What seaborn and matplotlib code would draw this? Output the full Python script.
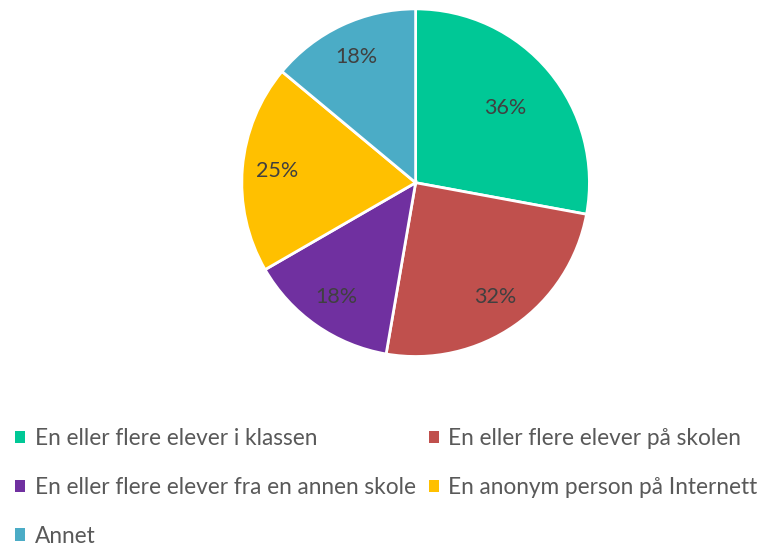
import matplotlib
matplotlib.use("Agg")
import matplotlib.pyplot as plt
import seaborn as sns
import numpy as np
from matplotlib.patches import Patch

sns.set_theme(style="white")
plt.rcParams['font.family'] = ['Lato', 'DejaVu Sans']

categories = ["En eller flere elever i klassen",
              "En eller flere elever på skolen",
              "En eller flere elever fra en annen skole",
              "En anonym person på Internett",
              "Annet"]
values = [36, 32, 18, 25, 18]
colors = ["#00C896", "#C0504D", "#7030A0", "#FFC000", "#4BACC6"]

fig = plt.figure(figsize=(7.64, 5.47), dpi=100)
w, h = 0.455, 0.636
ax = fig.add_axes([0.544 - w / 2, 0.666 - h / 2, w, h])

wedges, texts, autotexts = ax.pie(
    values, colors=colors, startangle=90, counterclock=False,
    autopct=lambda p: f"{round(p * sum(values) / 100)}%",
    pctdistance=0.8, radius=1.0,
    wedgeprops=dict(edgecolor="white", linewidth=2),
    textprops=dict(color="#404040", fontsize=15.5))
# move first label inward (best-fit style)
x, y = autotexts[0].get_position()
autotexts[0].set_position((x * 0.67 / 0.8, y * 0.67 / 0.8))
ax.set_xlim(-1.0, 1.0)
ax.set_ylim(-1.0, 1.0)
ax.set_aspect("equal")

handles = [Patch(facecolor=c, edgecolor="none") for c in colors]
order = [0, 2, 4, 1, 3]
leg = fig.legend([handles[i] for i in order], [categories[i] for i in order],
                 ncol=2, loc="upper left", bbox_to_anchor=(0.02, 0.217),
                 frameon=False, fontsize=16.3, handlelength=0.45, handleheight=0.45,
                 handletextpad=0.4, columnspacing=0.6, labelspacing=1.22,
                 borderpad=0, borderaxespad=0)
for t in leg.get_texts():
    t.set_color("#595959")

fig.savefig("out.png", dpi=100)
